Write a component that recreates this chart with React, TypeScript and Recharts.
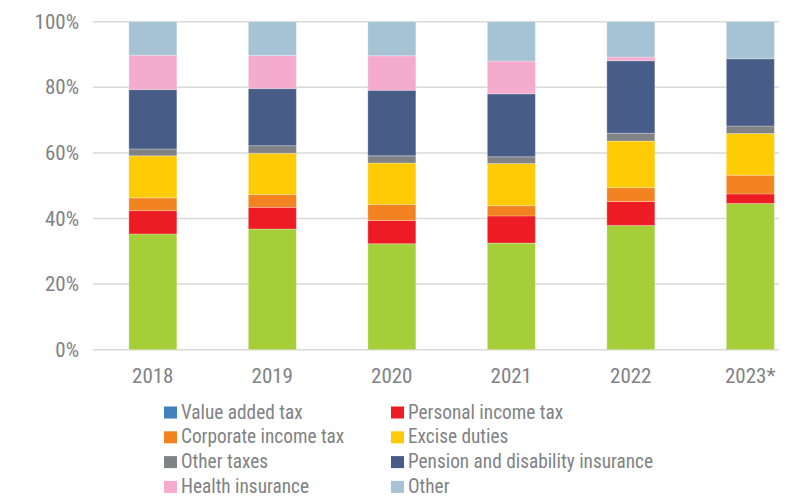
import React from 'react';
import { BarChart, Bar, XAxis, YAxis, CartesianGrid } from 'recharts';

const categories = ['2018', '2019', '2020', '2021', '2022', '2023*'];

const valueAddedTax = [35.3, 36.8, 32.3, 32.5, 37.9, 44.6];
const personalIncomeTax = [7.1, 6.6, 7.1, 8.3, 7.3, 2.9];
const corporateIncomeTax = [3.9, 3.9, 4.9, 3.1, 4.2, 5.7];
const exciseDuties = [12.8, 12.6, 12.6, 12.9, 14.2, 12.7];
const otherTaxes = [2.1, 2.3, 2.2, 2.0, 2.4, 2.3];
const pensionDisability = [18.1, 17.4, 20.0, 19.2, 22.1, 20.5];
const healthInsurance = [10.5, 10.1, 10.5, 10.0, 1.1, 0];
const other = [10.2, 10.3, 10.4, 12.0, 10.8, 11.3];

const yTicks = [0, 20, 40, 60, 80, 100];

const series = [
  { key: 'vat', name: 'Value added tax', values: valueAddedTax, fill: '#A6CE39', legend: '#3F80BD' },
  { key: 'pit', name: 'Personal income tax', values: personalIncomeTax, fill: '#ED1C24', legend: '#ED1C24' },
  { key: 'cit', name: 'Corporate income tax', values: corporateIncomeTax, fill: '#F38220', legend: '#F38220' },
  { key: 'excise', name: 'Excise duties', values: exciseDuties, fill: '#FFCB05', legend: '#FFCB05' },
  { key: 'othertax', name: 'Other taxes', values: otherTaxes, fill: '#808285', legend: '#808285' },
  { key: 'pension', name: 'Pension and disability insurance', values: pensionDisability, fill: '#485C88', legend: '#485C88' },
  { key: 'health', name: 'Health insurance', values: healthInsurance, fill: '#F4ABCE', legend: '#F4ABCE' },
  { key: 'other', name: 'Other', values: other, fill: '#A5C3D4', legend: '#A5C3D4' },
];

const data = categories.map((c, i) => {
  const row: Record<string, any> = { year: c };
  series.forEach((s) => {
    row[s.key] = s.values[i];
  });
  return row;
});

const FONT = "'Roboto Condensed', 'Liberation Sans Narrow', Roboto, sans-serif";
const TEXT = '#808285';

const XTick = (props: any) => {
  const { x, y, payload } = props;
  return (
    <text
      x={x}
      y={y + 33.5}
      textAnchor="middle"
      fill={TEXT}
      fontSize={21}
      fontFamily={FONT}
    >
      {payload.value}
    </text>
  );
};

const YTick = (props: any) => {
  const { x, y, payload } = props;
  return (
    <text
      x={x - 14}
      y={y + 7}
      textAnchor="end"
      fill={TEXT}
      fontSize={21}
      fontFamily={FONT}
    >
      {`${payload.value}%`}
    </text>
  );
};

const ChartLegend = () => {
  const colX = [156, 383];
  const rowY = [398.5, 423.3, 448.1, 472.9];
  return (
    <svg
      width={779}
      height={490}
      style={{ position: 'absolute', left: 0, top: 0, pointerEvents: 'none' }}
    >
      {series.map((s, i) => {
        const col = i % 2;
        const row = Math.floor(i / 2);
        const mx = colX[col];
        const my = rowY[row];
        return (
          <g key={s.key}>
            <rect x={mx} y={my} width={13} height={12} fill={s.legend} />
            <text
              x={mx + 17}
              y={my + 12}
              fill={TEXT}
              fontSize={19.3}
              fontFamily={FONT}
            >
              {s.name}
            </text>
          </g>
        );
      })}
    </svg>
  );
};

export default function App() {
  return (
    <div style={{ width: 779, height: 490, overflow: 'hidden', position: 'relative' }}>
      <BarChart
        width={810}
        height={490}
        data={data}
        margin={{ top: 13.7, right: 8, bottom: 108.3, left: 0 }}
        barCategoryGap="30%"
      >
        <CartesianGrid vertical={false} stroke="#D9D9D9" strokeWidth={1.5} />
        <XAxis
          dataKey="year"
          axisLine={false}
          tickLine={false}
          tickSize={0}
          tickMargin={0}
          height={40}
          tick={<XTick />}
          interval={0}
        />
        <YAxis
          domain={[0, 100]}
          ticks={yTicks}
          allowDataOverflow
          axisLine={false}
          tickLine={false}
          tickSize={0}
          tickMargin={0}
          width={85}
          tick={<YTick />}
        />
        {series.map((s) => (
          <Bar
            key={s.key}
            dataKey={s.key}
            name={s.name}
            stackId="a"
            fill={s.fill}
            stroke="#ffffff"
            strokeOpacity={0.45}
            strokeWidth={0.6}
            isAnimationActive={false}
          />
        ))}
      </BarChart>
      <ChartLegend />
    </div>
  );
}
